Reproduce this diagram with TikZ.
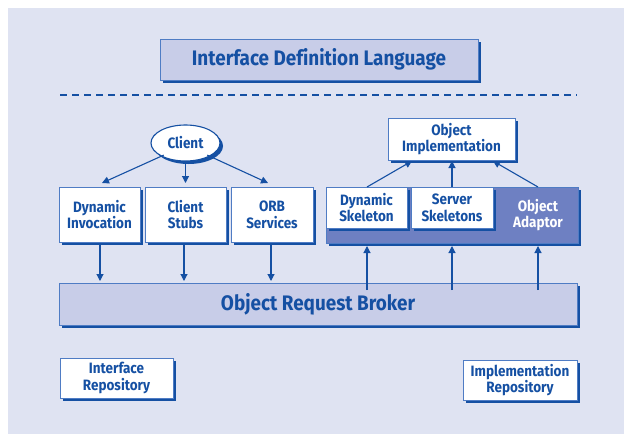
\documentclass[tikz,border=0pt]{standalone}
\usepackage{fontspec}
\setmainfont{Fira Sans}
\newfontfamily\labfont{Fira Sans}[FakeStretch=0.9,Ligatures=NoCommon]
\usetikzlibrary{shadows,shapes.geometric,arrows.meta}

\definecolor{panel}{HTML}{DFE3F2}
\definecolor{lightfill}{HTML}{C8CDE8}
\definecolor{edge}{HTML}{4F7CC4}
\definecolor{deep}{HTML}{1550A3}
\definecolor{adaptor}{HTML}{6E80C2}

\begin{document}
\begin{tikzpicture}[x=1pt,y=-1pt,
  shadowed/.style={drop shadow={shadow xshift=3pt,shadow yshift=-3pt,fill=deep,opacity=1}},
  labtext/.style={font=\labfont\bfseries\fontsize{15}{16.8}\selectfont},
  box/.style={draw=edge,line width=0.8pt,fill=white,shadowed,align=center,
    inner sep=0pt,labtext,text=deep},
  bigbox/.style={box,fill=lightfill,font=\labfont\bfseries\fontsize{21}{24}\selectfont},
  link/.style={draw=deep,line width=1.1pt,-{Triangle[length=7pt,width=7pt]}}
]
\useasboundingbox (0,0) rectangle (624,434);
\fill[panel] (8,8) rectangle (624,434);

% top banner and separator
\node[bigbox,minimum width=318pt,minimum height=41pt] (idl) at (319,59.5) {Interface Definition Language};
\draw[deep,line width=1.2pt,dash pattern=on 7pt off 5pt] (60,95) -- (577,95);

% client side
\node[box,ellipse,draw=deep,line width=1.1pt,minimum width=69pt,minimum height=36pt] (client) at (185.5,143) {Client};
\node[box,minimum width=81pt,minimum height=55pt] (dii) at (99.5,214.5) {Dynamic\\Invocation};
\node[box,minimum width=81pt,minimum height=55pt] (stubs) at (185.5,214.5) {Client\\Stubs};
\node[box,minimum width=82pt,minimum height=55pt] (orbsvc) at (272,214.5) {ORB\\Services};

% server side
\node[box,minimum width=127pt,minimum height=42pt] (impl) at (451.5,139) {Object\\Implementation};
\node[box,fill=adaptor,minimum width=252pt,minimum height=56pt] (oa) at (452,215) {};
\node[labtext,text=white,align=center] (oatext) at (538,215) {Object\\Adaptor};
\node[box,minimum width=81pt,minimum height=41pt] (dsk) at (366.5,207.5) {Dynamic\\Skeleton};
\node[box,minimum width=82pt,minimum height=41pt] (ssk) at (452,207.5) {Server\\Skeletons};

% broker bar
\node[bigbox,minimum width=518pt,minimum height=42pt] (orb) at (318,304) {Object Request Broker};

% repositories
\node[box,minimum width=113pt,minimum height=40pt] (ifr) at (116.5,378) {Interface\\Repository};
\node[box,minimum width=114pt,minimum height=40pt] (imr) at (520,380) {Implementation\\Repository};

% client calls
\draw[link] (client.south west) ++(3,-1) coordinate (c1) (c1) -- (102,183) coordinate (c1e);
\draw[link] (client.south) -- (185.5,183);
\draw[link] (client.south east) ++(-3,-1) coordinate (c3) (c3) -- (268,183) coordinate (c3e);

% down into the broker
\draw[link] (dii.south -| 100,0) ++(0,3) -- (100,281);
\draw[link] (stubs.south -| 184,0) ++(0,3) -- (184,281);
\draw[link] (orbsvc.south -| 271,0) ++(0,3) -- (271,281);

% up from the broker to the adaptor
\coordinate (u1) at (367,290);
\coordinate (u2) at (452,290);
\coordinate (u3) at (538,290);
\draw[link] (u1) -- (367,246);
\draw[link] (u2) -- (452,246);
\draw[link] (u3) -- (538,246);

% up to the implementation
\draw[link] (367,187) -- (412,161);
\draw[link] (452,187) -- (452,161);
\draw[link] (538,187) -- (493,161);
\end{tikzpicture}
\end{document}
